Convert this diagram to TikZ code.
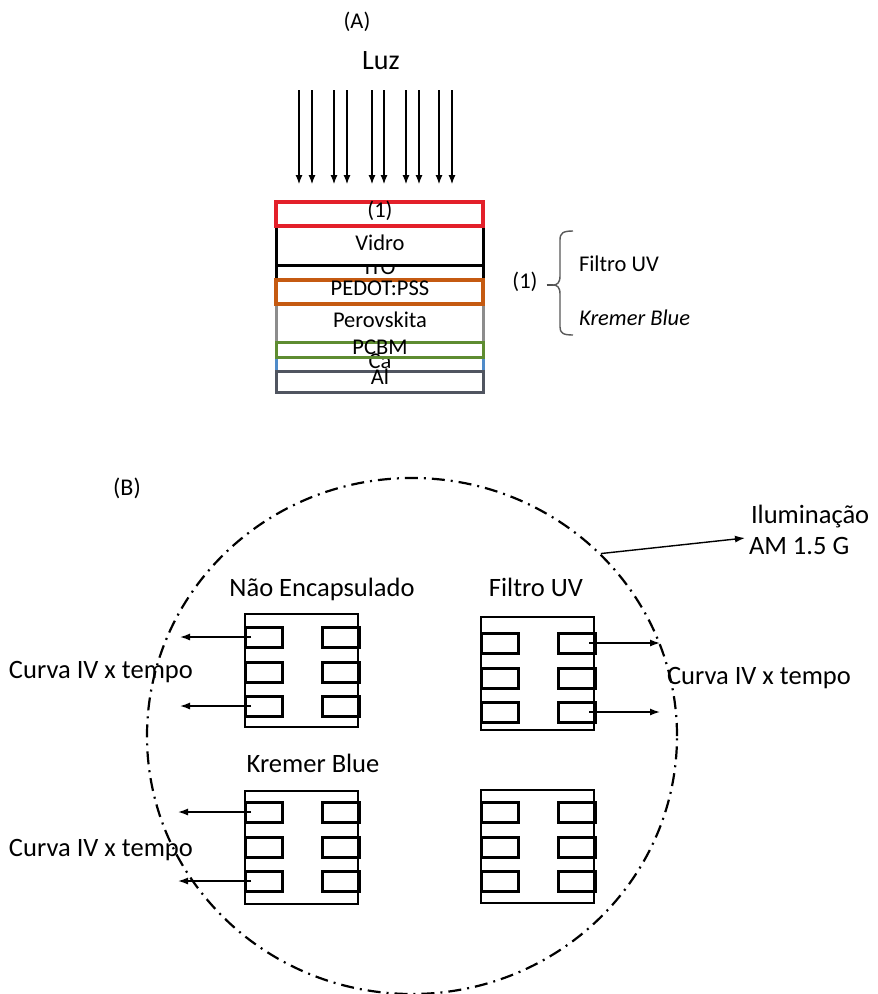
\documentclass[tikz,border=0pt]{standalone}
\usepackage{fontspec}
\setmainfont{Carlito}
\usetikzlibrary{arrows.meta,shapes.geometric}
\definecolor{lred}{HTML}{E3202A}
\definecolor{lorange}{HTML}{C55A11}
\definecolor{lgray}{HTML}{8C8C8C}
\definecolor{lgreen}{HTML}{5E8C31}
\definecolor{lblue}{HTML}{4F8BC9}
\definecolor{ldark}{HTML}{505560}
\newcommand\drawchip[4]{%
  \node[chipbox] (#1) at (#2,#3) {};
  \node[pad] (#1-l1) at (#2,#3+#4) {};
  \node[pad] (#1-l2) at (#2,#3+#4+35) {};
  \node[pad] (#1-l3) at (#2,#3+#4+69) {};
  \node[pad] (#1-r1) at (#2+77,#3+#4) {};
  \node[pad] (#1-r2) at (#2+77,#3+#4+35) {};
  \node[pad] (#1-r3) at (#2+77,#3+#4+69) {};
}
\begin{document}
\begin{tikzpicture}[x=1pt,y=-1pt,
  txt/.style={inner sep=0pt, outer sep=0pt, text height=0.64em, text depth=0pt},
  lay/.style={txt, font=\fontsize{22.5}{25}\selectfont},
  big/.style={txt, font=\fontsize{26.5}{30}\selectfont},
  layer/.style={line width=3pt, fill=white},
  larr/.style={line width=1.1pt, -{Latex[length=9pt,width=7pt]}},
  arr/.style={line width=1.4pt, -{Latex[length=10pt,width=7pt]}},
  chipbox/.style={draw, line width=2.6pt, minimum width=113pt, minimum height=113pt, anchor=north west, inner sep=0pt, outer sep=0pt},
  pad/.style={draw, line width=3pt, minimum width=37pt, minimum height=20pt, anchor=north west, inner sep=0pt, outer sep=0pt}]
\useasboundingbox[fill=white] (0,0) rectangle (878,994);

% ---------- (A) ----------
\node[lay] (labA) at (357,25) {(A)};
\node[txt, font=\fontsize{28}{30}\selectfont] (luz) at (381,66) {Luz};
\foreach \i/\x in {1/299,2/312,3/334,4/347,5/372,6/384,7/406,8/419,9/439,10/452}{
  \coordinate (s\i) at (\x,90);
  \coordinate (e\i) at (\x,184);
  \draw[larr] (s\i) -- (e\i);
}

% layers
\draw[layer, draw=black] (276,265) rectangle (483,280);
\node[lay] (ito) at (380,271) {ITO};
\draw[layer, draw=black] (276,226) rectangle (483,265);
\node[lay] (vidro) at (380,247) {Vidro};
\draw[layer, draw=lred, line width=3.2pt] (276,202) rectangle (483,226);
\node[lay] (one) at (380,214) {(1)};
\draw[layer, draw=lgray] (276,304) rectangle (483,342);
\node[lay] (perov) at (380,324) {Perovskita};
\draw[layer, draw=lorange, line width=3.2pt] (276,280) rectangle (483,304);
\node[lay] (pedot) at (380,292) {PEDOT:PSS};
\draw[layer, draw=lblue] (276,357) rectangle (483,371);
\node[lay] (ca) at (380,365) {Ca};
\draw[layer, draw=ldark] (276,371) rectangle (483,392);
\node[lay] (al) at (380,381) {Al};
\draw[layer, draw=lgreen, fill=none] (276,342) rectangle (483,357);
\node[lay] (pcbm) at (380,351) {PCBM};

% brace legend
\node[lay] (onel) at (525,285) {(1)};
\coordinate (btip) at (553,285);
\draw[line width=1.3pt, black!70] ([xshift=9pt]onel.east) -- (btip);
\draw[line width=1.4pt, black!65] (573,231) .. controls (563,231) and (560,233) .. (560,240) -- (560,276)
  .. controls (560,283) and (557,285) .. (btip)
  .. controls (557,285) and (560,287) .. (560,294) -- (560,327)
  .. controls (560,333) and (563,335) .. (573,335);
\node[lay, anchor=west] (filtroA) at (579,268) {Filtro UV};
\node[lay, anchor=west] (kremerA) at (579,322) {\itshape Kremer Blue};

% ---------- (B) ----------
\node[txt, font=\fontsize{24}{28}\selectfont] (labB) at (127,492) {(B)};
\node[draw, ellipse, line width=2.2pt, dash pattern=on 13pt off 6pt on 2pt off 6pt,
      minimum width=530pt, minimum height=516pt, inner sep=0pt] (disk) at (412,736) {};

\node[big, anchor=west] (ilum1) at (751,520) {Iluminação};
\node[big, anchor=west] (ilum2) at (749,551) {AM 1.5 G};
\coordinate (tilum) at (745,538);
\draw[arr] (disk.44) -- (tilum);

\drawchip{c1}{245}{614}{13}
\drawchip{c2}{481}{617}{16}
\drawchip{c3}{245}{791}{11}
\drawchip{c4}{481}{790}{12}

\node[big] (t1) at (322,593) {Não Encapsulado};
\node[big] (t2) at (536,593) {Filtro UV};
\node[big] (t3) at (313,769) {Kremer Blue};

\node[big, anchor=west] (cv1) at (9,675) {Curva IV x tempo};
\node[big, anchor=west] (cv2) at (667,681) {Curva IV x tempo};
\node[big, anchor=west] (cv3) at (9,853) {Curva IV x tempo};

\coordinate (a1) at (180,637);
\coordinate (a2) at (180,706);
\coordinate (a3) at (660,643);
\coordinate (a4) at (660,712);
\coordinate (a5) at (178,812);
\coordinate (a6) at (178,881);
\draw[arr] ([xshift=6pt]c1-l1.west) -- (a1);
\draw[arr] ([xshift=6pt]c1-l3.west) -- (a2);
\draw[arr] ([xshift=-6pt]c2-r1.east) -- (a3);
\draw[arr] ([xshift=-6pt]c2-r3.east) -- (a4);
\draw[arr] ([xshift=6pt]c3-l1.west) -- (a5);
\draw[arr] ([xshift=6pt]c3-l3.west) -- (a6);
\end{tikzpicture}
\end{document}
